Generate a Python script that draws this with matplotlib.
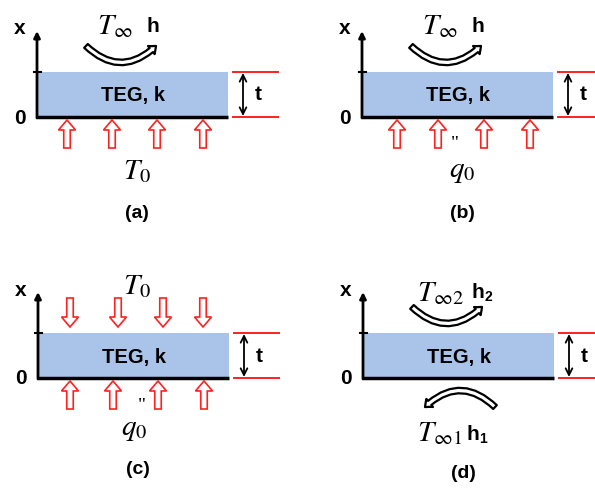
import matplotlib
matplotlib.use("Agg")
import matplotlib.pyplot as plt
from matplotlib.patches import Rectangle, FancyArrow, FancyArrowPatch

plt.rcParams["mathtext.fontset"] = "stix"

# Layout of the four TEG boundary-condition sketches (pixel units, y downward)
panel_names = ["(a)", "(b)", "(c)", "(d)"]
origins = [(37, 117), (362, 117), (38, 378), (363, 378)]
slab_width = 191
slab_height = 45
caption_offset = [96, 96, 92, 95]

# Flux arrows under / above the slab (x offsets from the axis)
up_arrow_x = [[30, 75, 120, 166], [35, 76, 122, 168], [32, 75, 120, 166], []]
down_arrow_x = [[], [], [32, 80, 125, 165], []]

# Boundary labels
top_labels = [r"$T_\infty$", r"$T_\infty$", r"$T_0$", r"$T_{\infty 2}$"]
top_h = [("h", ""), ("h", ""), ("", ""), ("h", "2")]
bottom_labels = [r"$T_0$", r"$q_0$", r"$q_0$", r"$T_{\infty 1}$"]
bottom_h = [("", ""), ("", ""), ("", ""), ("h", "1")]
flux_prime_x = [None, 93, 104, None]
top_arc = [True, True, False, True]
bottom_arc = [False, False, False, True]

slab_color = "#aac4e9"
flux_color = "#ff2020"
sans = "Liberation Sans"

fig = plt.figure(figsize=(5.95, 4.88), dpi=100)
ax = fig.add_axes([0, 0, 1, 1])
ax.set_xlim(0, 595)
ax.set_ylim(488, 0)
ax.axis("off")


def hollow_block_arrow(x, y_start, y_end):
    ax.add_patch(FancyArrow(x, y_start, 0, y_end - y_start, width=6.5,
                            head_width=17, head_length=10,
                            length_includes_head=True, fc="white",
                            ec=flux_color, lw=1.2, zorder=3))


def curved_arrow(x0, x1, y, rad, reverse=False):
    a, b = ((x1, y), (x0, y)) if reverse else ((x0, y), (x1, y))
    ax.add_patch(FancyArrowPatch(a, b, connectionstyle=f"arc3,rad={rad}",
                                 arrowstyle="simple,head_width=0.75,head_length=0.45,tail_width=0.38",
                                 mutation_scale=10, fc="white", ec="black",
                                 lw=1.6, zorder=3))


def bold_text(x, y, s, size=14.5):
    ax.text(x, y, s, ha="center", va="center", fontsize=size,
            fontweight="bold", family=sans)


def coeff_label(x, y, parts):
    h, sub = parts
    if not h:
        return
    bold_text(x, y, h, 15)
    if sub:
        bold_text(x + 10, y + 5, sub, 10)


for i, (ox, oy) in enumerate(origins):
    # slab
    ax.add_patch(Rectangle((ox, oy - slab_height), slab_width, slab_height,
                           fc=slab_color, ec="none", zorder=1))
    ax.plot([ox, ox + slab_width], [oy, oy], color="black", lw=2.5,
            solid_capstyle="butt", zorder=2)
    bold_text(ox + 96, oy - 21, "TEG, k")

    # x axis of the sketch
    ax.annotate("", xy=(ox, oy - 86), xytext=(ox, oy + 1),
                arrowprops=dict(arrowstyle="-|>", lw=2, color="black",
                                mutation_scale=9, shrinkA=0, shrinkB=0),
                zorder=4)
    ax.plot([ox - 3.5, ox + 3.5], [oy - slab_height] * 2, color="black", lw=1.5, zorder=4)
    bold_text(ox - 17, oy - 88, "x", 15)
    bold_text(ox - 17, oy + 1, "0", 15)

    # thickness marker
    for yy in (oy - slab_height, oy):
        ax.plot([ox + 196, ox + 241], [yy, yy], color=flux_color, lw=1.4, zorder=2)
    ax.annotate("", xy=(ox + 206, oy - 44), xytext=(ox + 206, oy - 1),
                arrowprops=dict(arrowstyle="<->", lw=1.3, color="black",
                                mutation_scale=12, shrinkA=0, shrinkB=0))
    bold_text(ox + 221, oy - 22, "t", 15)

    # heat flux arrows
    for dx in up_arrow_x[i]:
        hollow_block_arrow(ox + dx, oy + 31, oy + 3)
    for dx in down_arrow_x[i]:
        hollow_block_arrow(ox + dx, oy - 80, oy - 51)

    # convection arrows
    if top_arc[i]:
        curved_arrow(ox + 47, ox + 121, oy - 73, 0.5)
    if bottom_arc[i]:
        curved_arrow(ox + 60, ox + 134, oy + 31, 0.5, reverse=True)

    # boundary labels
    if i == 3:
        ax.text(ox + 77, oy - 85, top_labels[i], ha="center", va="center", fontsize=21)
        coeff_label(ox + 115, oy - 86, top_h[i])
        ax.text(ox + 77, oy + 55, bottom_labels[i], ha="center", va="center", fontsize=21)
        coeff_label(ox + 110, oy + 56, bottom_h[i])
    elif i == 2:
        ax.text(ox + 99, oy - 92, top_labels[i], ha="center", va="center", fontsize=21)
        ax.text(ox + 96, oy + 51, bottom_labels[i], ha="center", va="center", fontsize=21)
    else:
        ax.text(ox + 78, oy - 91, top_labels[i], ha="center", va="center", fontsize=21)
        coeff_label(ox + 116, oy - 90, top_h[i])
        ax.text(ox + 100, oy + 54, bottom_labels[i], ha="center", va="center", fontsize=21)
    if flux_prime_x[i] is not None:
        ax.text(ox + flux_prime_x[i], oy + 28, '"', ha="center", va="center",
                fontsize=14, family="Liberation Serif")

    bold_text(ox + 100, oy + caption_offset[i], panel_names[i], 14)

fig.savefig("out.png", dpi=100)
